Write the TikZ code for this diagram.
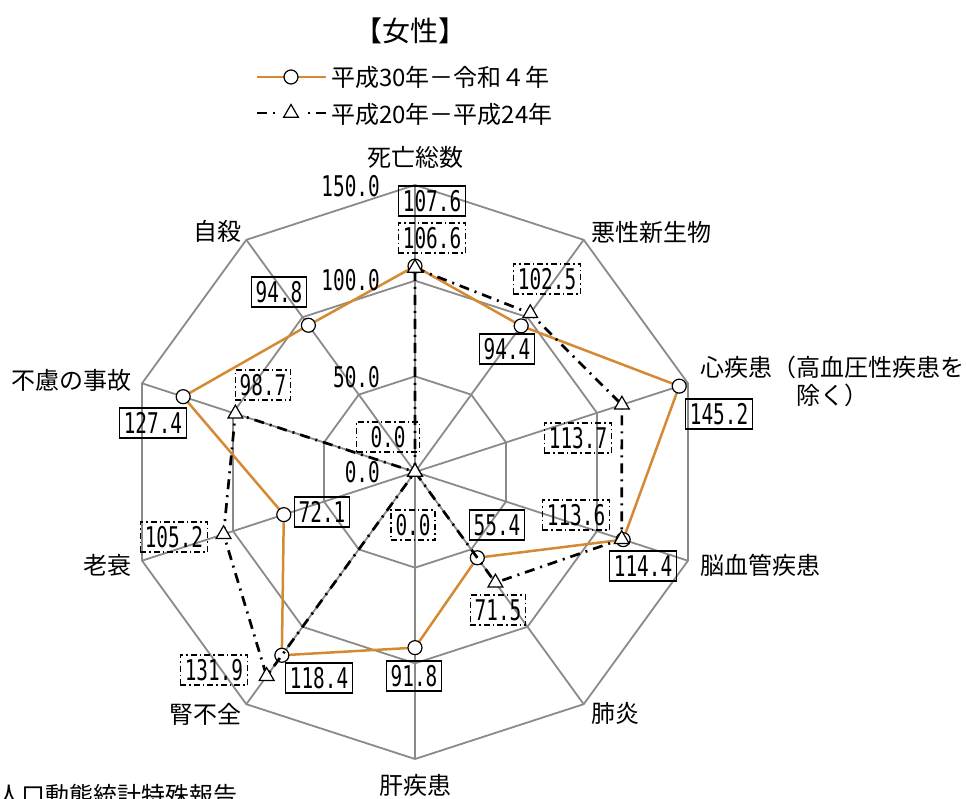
\documentclass[tikz,border=0pt]{standalone}
\usepackage{fontspec}
\setmainfont{Noto Sans CJK JP}
\newfontfamily\numfont[FakeStretch=0.68]{DejaVu Sans Mono}
\usepackage{tikz}
\usetikzlibrary{shapes.geometric}
\definecolor{seriesorange}{RGB}{214,137,51}
\definecolor{gridgray}{RGB}{138,138,138}
\tikzstyle{whitedot}=[circle,draw=black,fill=white,line width=1.2pt,
                      inner sep=0pt,minimum size=14pt]
\tikzstyle{whitetri}=[regular polygon,regular polygon sides=3,draw=black,
                      fill=white,line width=1.2pt,inner sep=0pt,minimum size=17pt]
\tikzstyle{axislabel}=[font=\fontsize{24}{28}\selectfont,inner sep=0pt]
\tikzstyle{numlabel}=[font=\numfont\fontsize{28.5}{28}\selectfont,
                      text height=20.5pt,text depth=0pt,inner sep=0pt]
\tikzstyle{solidbox}=[numlabel,draw=black,line width=1.3pt,
                      inner xsep=4.5pt,inner ysep=4.8pt]
\tikzstyle{dashbox}=[solidbox,dash pattern=on 6pt off 3pt on 1.5pt off 3pt]
\tikzstyle{recentline}=[seriesorange,line width=2.5pt,line join=round]
\tikzstyle{pastline}=[black,line width=2.7pt,
                      dash pattern=on 10pt off 6pt on 2pt off 6pt]

\begin{document}
\begin{tikzpicture}[x=1pt,y=-1pt]
    \newcommand{\pxu}{1.9133}
    \useasboundingbox (0,0) rectangle (966,798);
    \coordinate (O) at (415,472);

    % grid
    \begin{scope}[shift={(O)}]
      \foreach \v in {50,100,150}
        \draw[gridgray,line width=1.8pt] (-90:\v*\pxu)
          \foreach \k in {1,...,9} { -- (-90+36*\k:\v*\pxu) } -- cycle;
      \foreach \k in {0,...,9}
        \draw[gridgray,line width=1.8pt] (0,0) -- (-90+36*\k:150*\pxu);

      % H30-R4
      \coordinate (a1) at (-90:107.6*\pxu);
      \coordinate (a2) at (-54:94.4*\pxu);
      \coordinate (a3) at (-18:145.2*\pxu);
      \coordinate (a4) at (18:114.4*\pxu);
      \coordinate (a5) at (54:55.4*\pxu);
      \coordinate (a6) at (90:91.8*\pxu);
      \coordinate (a7) at (126:118.4*\pxu);
      \coordinate (a8) at (162:72.1*\pxu);
      \coordinate (a9) at (198:127.4*\pxu);
      \coordinate (a10) at (234:94.8*\pxu);
      % H20-H24
      \coordinate (b1) at (-90:106.6*\pxu);
      \coordinate (b2) at (-54:102.5*\pxu);
      \coordinate (b3) at (-18:113.7*\pxu);
      \coordinate (b4) at (18:113.6*\pxu);
      \coordinate (b5) at (54:71.5*\pxu);
      \coordinate (b6) at (90:0*\pxu);
      \coordinate (b7) at (126:131.9*\pxu);
      \coordinate (b8) at (162:105.2*\pxu);
      \coordinate (b9) at (198:98.7*\pxu);
      \coordinate (b10) at (234:0*\pxu);
    \end{scope}

    \draw[recentline] (a1) -- (a2) -- (a3) -- (a4) -- (a5) -- (a6)
      -- (a7) -- (a8) -- (a9) -- (a10) -- cycle;
    \foreach \i in {1,...,10}
      \node[whitedot] (ma\i) at (a\i) {};
    \draw[pastline] (b1) -- (b2) -- (b3) -- (b4) -- (b5) -- (b6)
      -- (b7) -- (b8) -- (b9) -- (b10) -- cycle;
    \foreach \i in {1,...,10}
      \node[whitetri] (mb\i) at (b\i) {};

    % scale
    \node[numlabel,anchor=east] (s150) at (380,186) {150.0};
    \node[numlabel,anchor=east] (s100) at (380,280) {100.0};
    \node[numlabel,anchor=east] (s50) at (380,377) {50.0};
    \node[numlabel,anchor=east] (s0) at (380,472) {0.0};

    % values
    \node[solidbox] (la1) at (432,201) {107.6};
    \node[solidbox] (la2) at (507,349) {94.4};
    \node[solidbox] (la3) at (719,414) {145.2};
    \node[solidbox] (la4) at (643,566) {114.4};
    \node[solidbox] (la5) at (497,525) {55.4};
    \node[solidbox] (la6) at (414,676) {91.8};
    \node[solidbox] (la7) at (319,678) {118.4};
    \node[solidbox] (la8) at (322,512) {72.1};
    \node[solidbox] (la9) at (153,423) {127.4};
    \node[solidbox] (la10) at (279,292) {94.8};
    \node[dashbox] (lb1) at (432,238) {106.6};
    \node[dashbox] (lb2) at (547,279) {102.5};
    \node[dashbox] (lb3) at (578,438) {113.7};
    \node[dashbox] (lb4) at (576,515) {113.6};
    \node[dashbox] (lb5) at (498,610) {71.5};
    \node[dashbox] (lb6) at (413,525) {0.0};
    \node[dashbox] (lb7) at (214,670) {131.9};
    \node[dashbox] (lb8) at (174,537) {105.2};
    \node[dashbox] (lb9) at (263,385) {98.7};
    \node[dashbox,minimum width=63pt] (lb10) at (388,437) {0.0};

    % axis names
    \node[axislabel] (n1) at (415,157) {死亡総数};
    \node[axislabel] (n2) at (651,232) {悪性新生物};
    \node[axislabel,align=center] (n3) at (832,381) {心疾患（高血圧性疾患を\\除く）};
    \node[axislabel] (n4) at (760,565) {脳血管疾患};
    \node[axislabel] (n5) at (615,713) {肺炎};
    \node[axislabel] (n6) at (415,785) {肝疾患};
    \node[axislabel] (n7) at (205,714) {腎不全};
    \node[axislabel] (n8) at (107,565) {老衰};
    \node[axislabel] (n9) at (71,380) {不慮の事故};
    \node[axislabel] (n10) at (217,231) {自殺};

    % title and legend
    \node[axislabel,font=\fontsize{28}{30}\selectfont] (title) at (410,31) {【女性】};
    \coordinate (k1a) at (257,77);
    \coordinate (k1b) at (326,77);
    \draw[recentline] (k1a) -- (k1b);
    \node[whitedot] (k1m) at (291,77) {};
    \node[axislabel,anchor=west] (k1t) at (331,77) {平成30年－令和４年};
    \coordinate (k2a) at (257,113);
    \coordinate (k2b) at (326,113);
    \draw[pastline] (k2a) -- (280,113);
    \draw[pastline] (k2b) -- (302,113);
    \node[whitetri] (k2m) at (291,113) {};
    \node[axislabel,anchor=west] (k2t) at (331,114) {平成20年－平成24年};

    \node[axislabel,anchor=west] (src) at (-3,795) {人口動態統計特殊報告};
  \end{tikzpicture}
\end{document}
